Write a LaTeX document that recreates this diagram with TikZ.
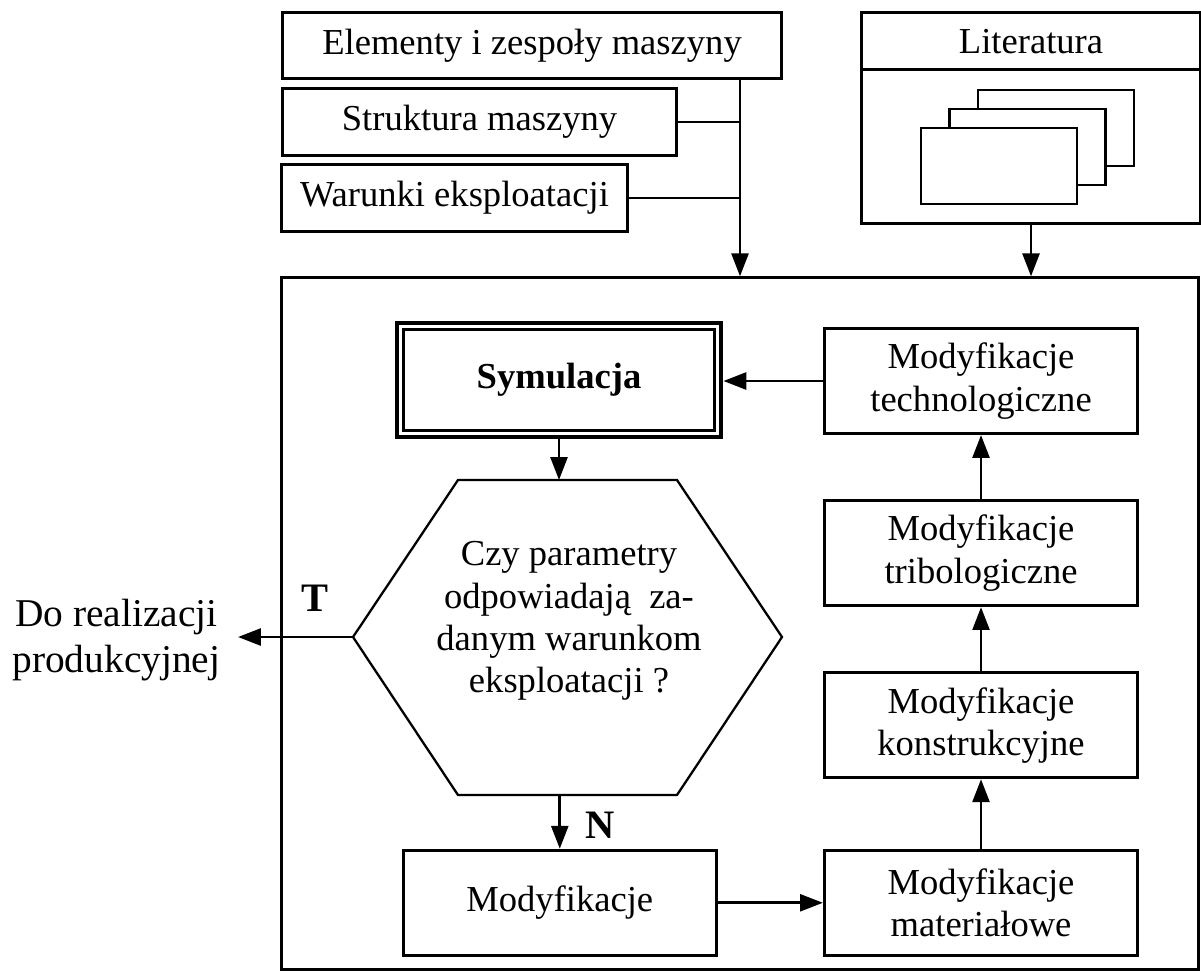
\documentclass[tikz,border=0pt]{standalone}
\usepackage{fontspec}
\setmainfont{Liberation Serif}
\usetikzlibrary{arrows.meta,positioning}

\begin{document}
\begin{tikzpicture}[x=0.01cm, y=-0.01cm,
        txt/.style={font=\fontsize{10.4}{12}\selectfont},
        box/.style={txt, draw, line width=0.85pt, align=center, inner sep=0pt,
                minimum width=3.13cm, minimum height=1.05cm},
        lin/.style={line width=0.8pt},
        arr/.style={lin, -{Triangle[length=6.5pt,width=4.8pt]}},
        znak/.style={font=\fontsize{11.5}{13}\selectfont\bfseries}]
        \useasboundingbox (0,0) rectangle (1201,972);

        \node[box, minimum width=4.98cm, minimum height=0.65cm] (elem) at (532,45.5) {Elementy i zespoły maszyny};
        \node[box, minimum width=3.93cm, minimum height=0.66cm] (strukt) at (479.5,122) {Struktura maszyny};
        \node[box, minimum width=3.45cm, minimum height=0.66cm] (warunki) at (454.5,198) {Warunki eksploatacji};

        \node[box, minimum width=3.38cm, minimum height=2.10cm] (lit) at (1031,118) {};
        \node[txt] (littyt) at (1031,42) {Literatura};
        \draw[lin] ([yshift=-0.58cm]lit.north west) -- ([yshift=-0.58cm]lit.north east);
        \foreach \d in {2,1,0}
                \draw[lin, fill=white] (921+28.5*\d,128-19*\d) rectangle +(156,76);

        \node[draw, line width=0.85pt, minimum width=9.16cm, minimum height=6.91cm] (ramka) at (740,623.5) {};

        \draw[arr] (elem.south -| ramka.north) -- (ramka.north);
        \draw[lin] (strukt.east) -- (strukt.east -| ramka.north);
        \draw[lin] (warunki.east) -- (warunki.east -| ramka.north);
        \draw[arr] (lit.south) -- (lit.south |- ramka.north);

        \node[box, line width=1.3pt, minimum width=3.24cm, minimum height=1.14cm,
                font=\fontsize{10.4}{12}\selectfont\bfseries] (sym) at (559,380) {Symulacja};
        \draw[line width=0.9pt] ([shift={(9,9)}]sym.north west) rectangle ([shift={(-9,-9)}]sym.south east);

        \coordinate (hex) at (569,637);
        \draw[line width=0.65pt] (hex) ++(-216,0) coordinate (pw) -- ++(105,-157) coordinate (pnw)
                -- ++(219,0) -- ++(105,157) coordinate (pe) -- ++(-105,158) -- ++(-219,0) coordinate (psw) -- cycle;
        \node[txt, align=center] (pytanie) at ([yshift=0.16cm]hex)
                {Czy parametry\\odpowiadają~~za-\\danym warunkom\\eksploatacji ?};

        \node[txt, font=\fontsize{11.2}{13.1}\selectfont, align=center, anchor=east, inner sep=0.17cm]
                (wyj) at (238,640) {Do realizacji\\produkcyjnej};
        \node[znak] (tak) at (315,598) {T};
        \node[znak] (nie) at (600,825) {N};

        \node[box] (tech) at (981,381) {Modyfikacje\\technologiczne};
        \node[box, below=0.64cm of tech] (tri) {Modyfikacje\\tribologiczne};
        \node[box, below=0.64cm of tri] (kon) {Modyfikacje\\konstrukcyjne};
        \node[box, below=0.695cm of kon] (mat) {Modyfikacje\\materiałowe};
        \node[box, left=1.05cm of mat] (mod) {Modyfikacje};

        \draw[arr] (sym.south) -- (sym.south |- pnw);
        \draw[arr] (pw) -- (pw -| wyj.east);
        \draw[arr] (mod.north |- psw) -- (mod.north);
        \draw[arr] (mod.east) -- (mod.east -| mat.west);
        \draw[arr] (mat) -- (kon);
        \draw[arr] (kon) -- (tri);
        \draw[arr] (tri) -- (tech);
        \draw[arr] (tech.west) -- (tech.west -| sym.east);
\end{tikzpicture}
\end{document}
